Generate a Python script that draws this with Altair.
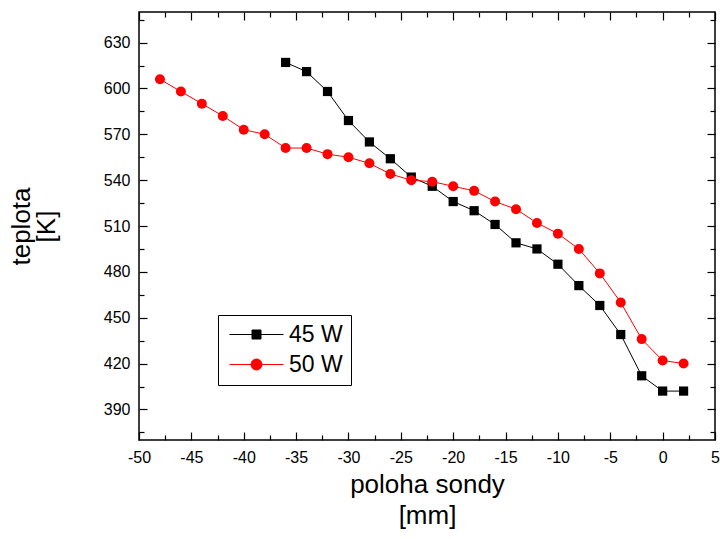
import altair as alt
import pandas as pd

# ---- data ----
series = ["45 W", "50 W"]
colors = ["black", "red"]

x_45 = [-36, -34, -32, -30, -28, -26, -24, -22, -20, -18, -16, -14, -12, -10, -8, -6, -4, -2, 0, 2]
t_45 = [617, 611, 598, 579, 565, 554, 542, 536, 526, 520, 511, 499, 495, 485, 471, 458, 439, 412, 402, 402]

x_50 = [-48, -46, -44, -42, -40, -38, -36, -34, -32, -30, -28, -26, -24, -22, -20, -18, -16, -14, -12,
        -10, -8, -6, -4, -2, 0, 2]
t_50 = [606, 598, 590, 582, 573, 570, 561, 561, 557, 555, 551, 544, 540, 539, 536, 533, 526, 521, 512,
        505, 495, 479, 460, 436, 422, 420]

x_major = [-50, -45, -40, -35, -30, -25, -20, -15, -10, -5, 0, 5]
x_minor = [-47.5, -42.5, -37.5, -32.5, -27.5, -22.5, -17.5, -12.5, -7.5, -2.5, 2.5]
y_major = [390, 420, 450, 480, 510, 540, 570, 600, 630]
y_minor = [375, 405, 435, 465, 495, 525, 555, 585, 615, 645]
x_domain = [-50, 5]
y_domain = [370, 650]

df = pd.DataFrame({
    "x": x_45 + x_50,
    "t": t_45 + t_50,
    "s": [series[0]] * len(x_45) + [series[1]] * len(x_50),
})

FONT = "Liberation Sans"

# legend symbols: line with marker
square_path = "M-5.4,0H5.4M-0.9,-0.9H0.9V0.9H-0.9Z"
circle_path = "M-5.4,0H5.4M-1.1,0A1.1,1.1,0,1,1,1.1,0A1.1,1.1,0,1,1,-1.1,0Z"

xs = alt.Scale(domain=x_domain, nice=False, zero=False)
ys = alt.Scale(domain=y_domain, nice=False, zero=False)

common = dict(domain=False, grid=False, tickColor="black", tickWidth=1.2)

ax_x_bottom = alt.Axis(orient="bottom", values=x_major, offset=-8, tickSize=8, labelPadding=9,
                       labelExpr="datum.value + ''", labelFlush=False, labelOverlap=False,
                       title=["poloha sondy", "[mm]"], titlePadding=6, titleLineHeight=31, **common)
ax_x_bottom_minor = alt.Axis(orient="bottom", values=x_minor, offset=-5, tickSize=5, labels=False,
                             title=None, **common)
ax_x_top = alt.Axis(orient="top", values=x_major, offset=-8, tickSize=8, labels=False, title=None, **common)
ax_x_top_minor = alt.Axis(orient="top", values=x_minor, offset=-5, tickSize=5, labels=False, title=None, **common)

ax_y_left = alt.Axis(orient="left", values=y_major, offset=-8, tickSize=8, labelPadding=9,
                     labelFlush=False, labelOverlap=False,
                     title=["teplota", "[K]"], titlePadding=44, titleLineHeight=25, **common)
ax_y_left_minor = alt.Axis(orient="left", values=y_minor, offset=-5, tickSize=5, labels=False,
                           title=None, **common)
ax_y_right = alt.Axis(orient="right", values=y_major, offset=-8, tickSize=8, labels=False, title=None, **common)
ax_y_right_minor = alt.Axis(orient="right", values=y_minor, offset=-5, tickSize=5, labels=False,
                            title=None, **common)

base = alt.Chart(df)
d45 = base.transform_filter(alt.datum.s == series[0])
d50 = base.transform_filter(alt.datum.s == series[1])

line45 = d45.mark_line(strokeWidth=1, color=colors[0]).encode(
    x=alt.X("x:Q", scale=xs, axis=ax_x_bottom),
    y=alt.Y("t:Q", scale=ys, axis=ax_y_left),
)

squares = d45.mark_point(shape="square", filled=True, color=colors[0], size=85, opacity=1).encode(
    x=alt.X("x:Q", scale=xs, axis=ax_x_bottom_minor),
    y=alt.Y("t:Q", scale=ys, axis=ax_y_left_minor),
)

line50 = d50.mark_line(strokeWidth=1, color=colors[1]).encode(
    x=alt.X("x:Q", scale=xs, axis=ax_x_top),
    y=alt.Y("t:Q", scale=ys, axis=ax_y_right),
)

circles = d50.mark_point(shape="circle", filled=True, color=colors[1], size=100, opacity=1).encode(
    x=alt.X("x:Q", scale=xs, axis=ax_x_top_minor),
    y=alt.Y("t:Q", scale=ys, axis=ax_y_right_minor),
)

leg = dict(orient="none", legendX=79, legendY=303, title=None, strokeColor="black", fillColor="white",
           padding=8, labelFont=FONT, labelFontSize=23, labelColor="black", symbolSize=100,
           symbolStrokeWidth=1, symbolOffset=19, labelOffset=21, rowPadding=6, labelLimit=300,
           symbolOpacity=1)

legend_layer = base.transform_filter("datum.x > 1000").mark_point(
    filled=False, strokeWidth=1, opacity=1, fillOpacity=1
).encode(
    x=alt.X("x:Q", scale=xs, axis=None),
    y=alt.Y("t:Q", scale=ys, axis=None),
    color=alt.Color("s:N", scale=alt.Scale(domain=series, range=colors), legend=alt.Legend(**leg)),
    fill=alt.Fill("s:N", scale=alt.Scale(domain=series, range=colors), legend=alt.Legend(**leg)),
    shape=alt.Shape("s:N", scale=alt.Scale(domain=series, range=[square_path, circle_path]),
                    legend=alt.Legend(**leg)),
)

chart = alt.layer(line45, squares, line50, circles, legend_layer).resolve_axis(
    x="independent", y="independent"
).properties(
    width=576, height=428,
    padding={"left": 139, "top": 12, "right": 5, "bottom": 99},
    autosize=alt.AutoSizeParams(type="none"),
    background="white",
).configure_axis(
    labelFont=FONT, labelFontSize=16, labelColor="black",
    titleFont=FONT, titleFontSize=26, titleFontWeight="normal", titleColor="black",
).configure_view(stroke="black", strokeWidth=1.5)

chart.save("out.html", embed_options={"renderer": "svg", "actions": False})
